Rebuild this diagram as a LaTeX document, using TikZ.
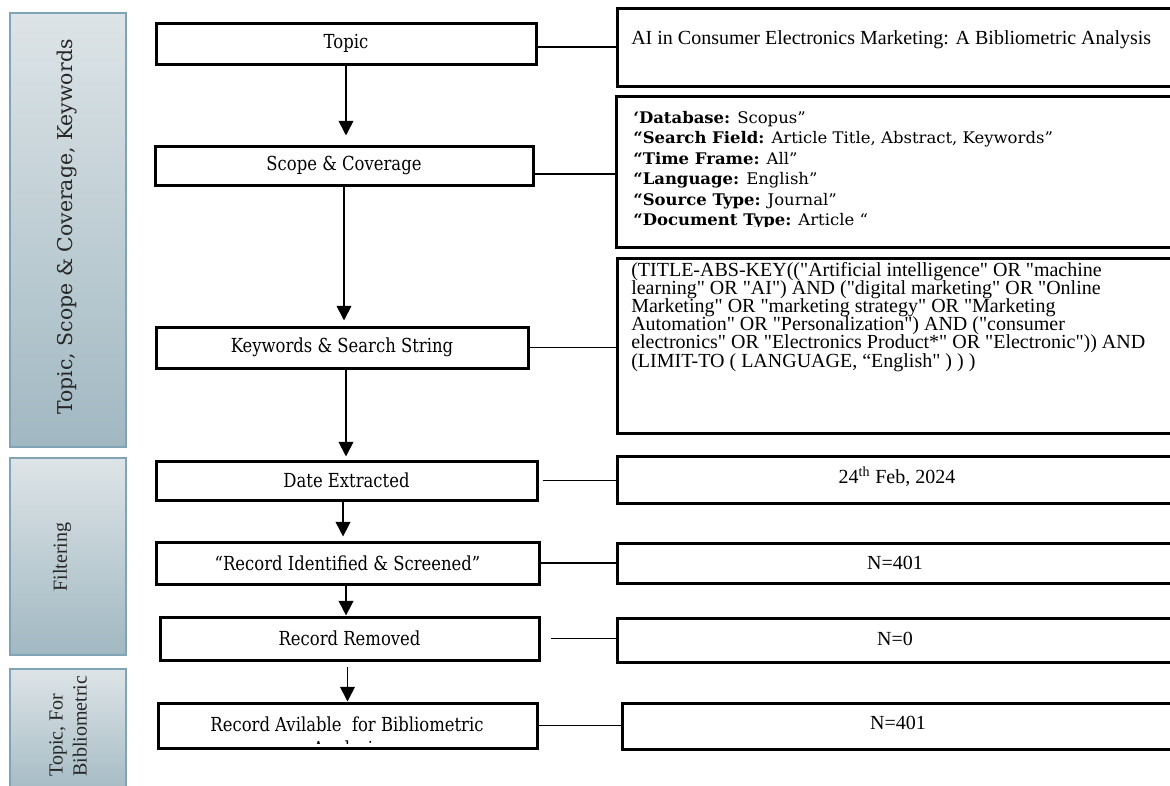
\documentclass[tikz,border=0pt]{standalone}
\usepackage{fontspec}
\usetikzlibrary{arrows.meta,fit}
\newfontfamily\tnr{Liberation Serif}[Ligatures=TeXOff]
\newfontfamily\cam{DejaVu Serif}[Ligatures=TeXOff,FakeStretch=0.85]
\newfontfamily\camw{DejaVu Serif}[Ligatures=TeXOff,FakeStretch=1.03]
\newfontfamily\camn{DejaVu Serif}[Ligatures=TeXOff]
\definecolor{barline}{HTML}{80A4B5}
\definecolor{bartop}{HTML}{DDE4E7}
\definecolor{barbot}{HTML}{A1B8C2}
\begin{document}
\begin{tikzpicture}[x=0.75pt,y=-0.75pt,
  lbox/.style={draw,line width=2.25pt,inner sep=0pt,font=\cam\fontsize{14.5}{17}\selectfont},
  rbox/.style={draw,line width=2.25pt,inner sep=0pt},
  bar/.style={draw=barline,line width=1.5pt,top color=bartop,bottom color=barbot,inner sep=0pt},
  arr/.style={line width=1.3pt,-{Triangle[width=11pt,length=11pt]}},
  conn/.style={line width=1.3pt},
  tt/.style={font=\tnr\fontsize{15}{17}\selectfont,inner sep=0pt},
  ct/.style={font=\camw\fontsize{12}{14}\selectfont,inner sep=0pt,anchor=base west},
  qt/.style={font=\tnr\fontsize{15}{17}\selectfont,inner sep=0pt,anchor=base west},
  bartext/.style={text=black!85,inner sep=0pt,rotate=90}
]
\clip (0,0) rectangle (1170,785);
\fill[white] (0,0) rectangle (1170,785);

% side bars
\node[bar,fit={(10,13) (126,447)}] (bar1) {};
\node[bar,fit={(10,458) (126,655)}] (bar2) {};
\node[bar,fit={(10,669) (126,800)}] (bar3) {};
\node[bartext,font=\camn\fontsize{15.3}{18}\selectfont] (lab1) at (67,227) {Topic, Scope \& Coverage, Keywords};
\node[bartext,font=\tnr\fontsize{15}{17}\selectfont] (lab2) at (62,557) {Filtering};
\node[bartext,font=\tnr\fontsize{15}{18}\selectfont,align=left,anchor=west] (lab3) at (68,777) {Topic, For\\Bibliometric};

% left column
\node[lbox,minimum width=285pt,minimum height=30.75pt] (topic) at (346,43.5) {Topic};
\node[lbox,minimum width=283.5pt,minimum height=29.25pt] (scope) at (344,165.5) {Scope \& Coverage};
\node[lbox,minimum width=279pt,minimum height=30.75pt] (kw) at (342,347.5) {Keywords \& Search String};
\node[lbox,minimum width=285.75pt,minimum height=29.25pt] (date) at (346.5,480.5) {Date Extracted};
\node[lbox,minimum width=287.25pt,minimum height=31.5pt] (ident) at (347.5,563) {“Record Identified \& Screened”};
\node[lbox,minimum width=284.25pt,minimum height=32.25pt] (removed) at (349.5,638.5) {Record Removed};
\node[lbox,minimum width=284.25pt,minimum height=33.75pt] (avail) at (347.5,725.5) {};
\begin{scope}
\clip (158,703) rectangle (537,743.5);
\node[font=\cam\fontsize{14.5}{17}\selectfont,inner sep=0pt,anchor=base] (availa) at (347,731) {Record Avilable\ \ for Bibliometric};
\node[font=\cam\fontsize{14.5}{17}\selectfont,inner sep=0pt,anchor=base] (availb) at (347,755) {Analysis};
\end{scope}

% right column
\node[rbox,fit={(617,8) (1190,86)}] (r1) {};
\node[qt] (r1t) at (631,44.5) {AI in Consumer Electronics Marketing: A Bibliometric Analysis};

\node[rbox,fit={(616,96) (1190,247)}] (r2) {};
\begin{scope}
\clip (616,96) rectangle (1190,226.5);
\node[ct] (r2a) at (633,123.3) {{\bfseries ‘Database:} Scopus”};
\node[ct] (r2b) at (633,143.8) {{\bfseries “Search Field:} Article Title, Abstract, Keywords”};
\node[ct] (r2c) at (633,164.3) {{\bfseries “Time Frame:} All”};
\node[ct] (r2d) at (633,184.8) {{\bfseries “Language:} English”};
\node[ct] (r2e) at (633,205.3) {{\bfseries “Source Type:} Journal”};
\node[ct] (r2f) at (633,225.8) {{\bfseries “Document Type:} Article “};
\end{scope}

\node[rbox,fit={(617,258) (1190,433)}] (r3) {};
\node[qt] (r3a) at (631,276) {(TITLE-ABS-KEY(("Artificial intelligence" OR "machine};
\node[qt] (r3b) at (631,294.2) {learning" OR "AI") AND ("digital marketing" OR "Online};
\node[qt] (r3c) at (631,312.4) {Marketing" OR "marketing strategy" OR "Marketing};
\node[qt] (r3d) at (631,330.6) {Automation" OR "Personalization") AND ("consumer};
\node[qt] (r3e) at (631,348.8) {electronics" OR "Electronics Product*" OR "Electronic")) AND};
\node[qt] (r3f) at (631,367) {(LIMIT-TO ( LANGUAGE, “English" ) ) )};

\node[rbox,fit={(617,456) (1190,503)}] (r4) {};
\node[tt,anchor=base] (r4t) at (897,483) {24\textsuperscript{th} Feb, 2024};
\node[rbox,fit={(617,543) (1190,583)}] (r5) {};
\node[tt,anchor=base] (r5t) at (895,569) {N=401};
\node[rbox,fit={(617,618) (1190,662)}] (r6) {};
\node[tt,anchor=base] (r6t) at (895,645) {N=0};
\node[rbox,fit={(622,703) (1190,749)}] (r7) {};
\node[tt,anchor=base] (r7t) at (898,729) {N=401};

% horizontal connectors
\draw[conn] ([yshift=-2.6pt]topic.east) -- ([yshift=-2.6pt]topic.east -| r1.west);
\draw[conn] ([yshift=-6.4pt]scope.east) -- ([yshift=-6.4pt]scope.east -| r2.west);
\draw[conn] (kw.east) -- (kw.east -| r3.west);
\draw[conn] ([xshift=3.4pt]date.east) -- (date.east -| r4.west);
\draw[conn] (ident.east) -- (ident.east -| r5.west);
\draw[conn] ([xshift=8pt]removed.east) -- (removed.east -| r6.west);
\draw[conn] (avail.east) -- (avail.east -| r7.west);

% vertical arrows
\draw[arr,shorten >=6.75pt] (topic.south) -- (topic.south |- scope.north);
\draw[arr,shorten >=3.75pt] (scope.south) -- (scope.south |- kw.north);
\draw[arr,shorten >=2.25pt] ([xshift=3pt]kw.south) -- ([xshift=3pt]kw.south |- date.north);
\draw[arr,shorten >=3pt] ([xshift=-2.6pt]date.south) -- ([xshift=-2.6pt]date.south |- ident.north);
\draw[arr] ([xshift=-1.1pt]ident.south) -- ([xshift=-1.1pt]ident.south |- removed.north);
\draw[arr,shorten <=3.75pt] ([xshift=-1.5pt]removed.south) -- ([xshift=-1.5pt]removed.south |- avail.north);
\end{tikzpicture}
\end{document}
